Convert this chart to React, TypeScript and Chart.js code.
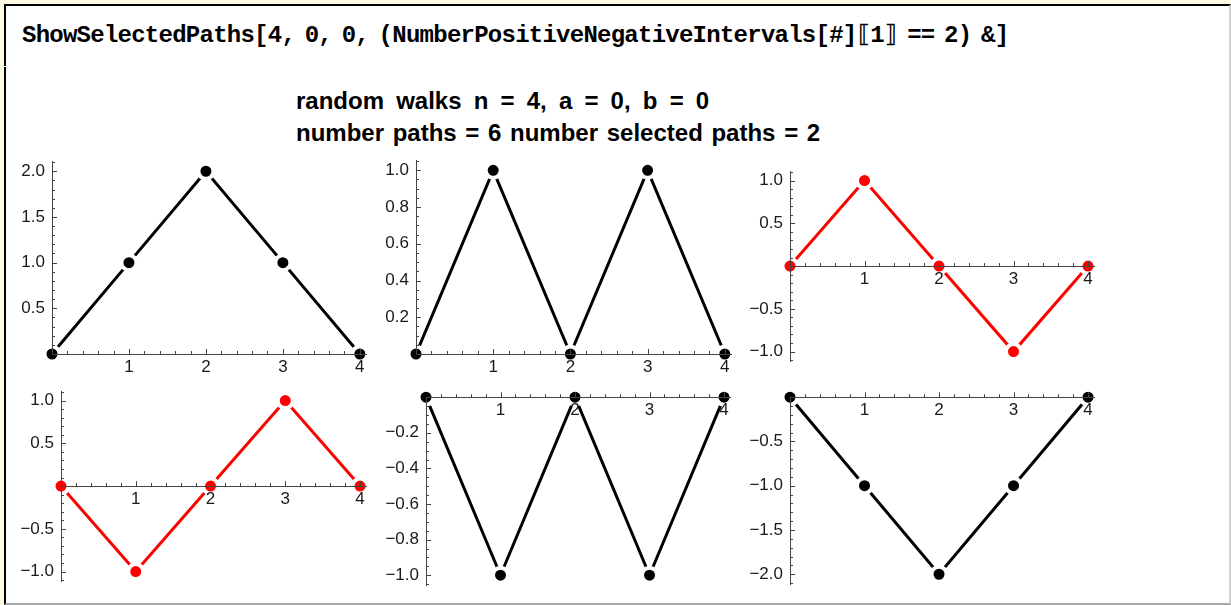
import React, { useEffect, useRef } from 'react';
import { Chart, registerables } from 'chart.js';

Chart.register(...registerables);

// Walk steps (x) shared by every path
const steps = [0, 1, 2, 3, 4];
const xTickLabels = ['', '1', '2', '3', '4'];

// The six random-walk paths of length 4 starting and ending at 0
const path1 = [0, 1, 2, 1, 0];
const path2 = [0, 1, 0, 1, 0];
const path3 = [0, 1, 0, -1, 0];
const path4 = [0, -1, 0, 1, 0];
const path5 = [0, -1, 0, -1, 0];
const path6 = [0, -1, -2, -1, 0];

// Paths picked by the selection predicate
const selectedFlags = [false, false, true, true, false, false];

// Major tick spacing on each panel's vertical axis
const yStepSizes = [0.5, 0.2, 0.5, 0.5, 0.2, 0.5];

const codeLine = 'ShowSelectedPaths[4, 0, 0, (NumberPositiveNegativeIntervals[#]\u27E61\u27E7 == 2) &]';
const titleLine1 = 'random walks n = 4, a = 0, b = 0';
const titleLine2 = 'number paths = 6 number selected paths = 2';

const paths = [path1, path2, path3, path4, path5, path6];

// Plot-area rectangles on the page (left, top, right, bottom)
const panelBoxes = [
  { left: 52, top: 160, right: 366, bottom: 354 },
  { left: 416, top: 159, right: 731, bottom: 354 },
  { left: 790, top: 170, right: 1094, bottom: 361 },
  { left: 61, top: 390, right: 366, bottom: 581 },
  { left: 426, top: 396, right: 730, bottom: 585 },
  { left: 790, top: 396, right: 1094, bottom: 584 },
];

const PAD_L = 70;
const PAD_T = 16;
const PAD_R = 16;
const PAD_B = 30;
const X_MAX = 4.08;
const RANGE_PAD = 0.055;

const AXIS_COLOR = '#444444';
const LABEL_COLOR = '#1a1a1a';
const LABEL_FONT = "'Liberation Sans', Arial, sans-serif";

const formatY = (v: number) => {
  if (Math.abs(v) < 1e-9) return '';
  const s = Math.abs(v).toFixed(1);
  return v < 0 ? '\u2212' + s : s;
};

// Mathematica-style inward tick marks, majors and minors, along both axes
const innerTicks = {
  id: 'innerTicks',
  afterDatasetsDraw(chart: any, _args: any, opts: any) {
    const { ctx, scales } = chart;
    const xs = scales.x;
    const ys = scales.y;
    const y0 = ys.getPixelForValue(0);
    const x0 = xs.getPixelForValue(0);
    ctx.save();
    ctx.strokeStyle = AXIS_COLOR;
    ctx.lineWidth = 1;
    ctx.beginPath();
    const xMinor = 0.2;
    for (let k = Math.ceil(xs.min / xMinor - 1e-9); k * xMinor <= xs.max + 1e-9; k++) {
      if (k === 0) continue;
      const len = k % 5 === 0 ? opts.major : opts.minor;
      const px = Math.round(xs.getPixelForValue(k * xMinor)) + 0.5;
      ctx.moveTo(px, y0);
      ctx.lineTo(px, y0 - len);
    }
    const yMinor = opts.yStep === 0.2 ? 0.05 : opts.yStep / 5;
    const ratio = Math.round(opts.yStep / yMinor);
    for (let k = Math.ceil(ys.min / yMinor - 1e-9); k * yMinor <= ys.max + 1e-9; k++) {
      if (k === 0) continue;
      const len = k % ratio === 0 ? opts.major : opts.minor;
      const py = Math.round(ys.getPixelForValue(k * yMinor)) + 0.5;
      ctx.moveTo(x0, py);
      ctx.lineTo(x0 + len, py);
    }
    ctx.stroke();
    ctx.restore();
  },
};

function Panel({ index }: { index: number }) {
  const ref = useRef<HTMLCanvasElement>(null);
  const box = panelBoxes[index];
  const width = box.right - box.left + PAD_L + PAD_R;
  const height = box.bottom - box.top + PAD_T + PAD_B;

  useEffect(() => {
    if (!ref.current) return;
    const values = paths[index];
    const color = selectedFlags[index] ? '#ff0000' : '#000000';
    const lo = Math.min(0, ...values);
    const hi = Math.max(0, ...values);
    const span = hi - lo;
    const yMin = lo < 0 ? lo - RANGE_PAD * span : 0;
    const yMax = hi > 0 ? hi + RANGE_PAD * span : 0;

    const chart = new Chart(ref.current, {
      type: 'line',
      data: {
        datasets: [
          {
            data: steps.map((s, i) => ({ x: s, y: values[i] })),
            borderColor: color,
            borderWidth: 3,
            backgroundColor: color,
            pointBackgroundColor: color,
            pointBorderColor: '#ffffff',
            pointBorderWidth: 4,
            pointRadius: 7.5,
            pointHoverRadius: 7.5,
            tension: 0,
            fill: false,
            clip: false as any,
          },
        ],
      },
      options: {
        responsive: false,
        animation: false,
        events: [],
        layout: { padding: { left: PAD_L - 60, top: PAD_T, right: PAD_R, bottom: PAD_B } },
        plugins: {
          legend: { display: false },
          tooltip: { enabled: false },
          innerTicks: { major: 5, minor: 3, yStep: yStepSizes[index] },
        } as any,
        scales: {
          x: {
            type: 'linear',
            position: { y: 0 } as any,
            min: 0,
            max: X_MAX,
            grid: { display: false, drawTicks: false },
            border: { display: true, color: AXIS_COLOR, width: 1, z: 1 } as any,
            ticks: {
              stepSize: 1,
              includeBounds: false,
              autoSkip: false,
              maxRotation: 0,
              padding: 3,
              color: LABEL_COLOR,
              font: { family: LABEL_FONT, size: 17 },
              z: 1,
              callback: (v: any) => {
                const i = steps.indexOf(Number(v));
                return i >= 0 ? xTickLabels[i] : '';
              },
            },
          },
          y: {
            type: 'linear',
            position: 'left',
            min: yMin,
            max: yMax,
            afterFit: (s: any) => {
              s.width = 60;
            },
            grid: { display: false, drawTicks: false },
            border: { display: true, color: AXIS_COLOR, width: 1, z: 1 } as any,
            ticks: {
              stepSize: yStepSizes[index],
              includeBounds: false,
              autoSkip: false,
              padding: 7,
              color: LABEL_COLOR,
              font: { family: LABEL_FONT, size: 17 },
              z: 1,
              callback: (v: any) => formatY(Number(v)),
            },
          },
        },
      },
      plugins: [innerTicks],
    } as any);
    return () => chart.destroy();
  }, [index]);

  return (
    <canvas
      ref={ref}
      width={width}
      height={height}
      style={{
        position: 'absolute',
        left: box.left - PAD_L,
        top: box.top - PAD_T,
        width,
        height,
      }}
    />
  );
}

export default function App() {
  return (
    <div
      style={{
        position: 'fixed',
        left: 0,
        top: 0,
        width: 1231,
        height: 605,
        background: '#fffbe2',
        overflow: 'hidden',
      }}
    >
      <div
        style={{
          position: 'absolute',
          left: 4,
          top: 4,
          width: 1227,
          height: 601,
          boxSizing: 'border-box',
          background: '#ffffff',
          borderTop: '2px solid #000000',
          borderLeft: '2px solid #000000',
          borderRight: '2px solid #cfcfcf',
          borderBottom: '2px solid #a8a8a8',
        }}
      />
      <div style={{ position: 'absolute', left: 2, top: 66, width: 6, height: 1, background: '#ffffff' }} />
      <div
        style={{
          position: 'absolute',
          left: 22,
          top: 22,
          whiteSpace: 'pre',
          fontFamily: "'Liberation Mono', 'DejaVu Sans Mono', monospace",
          fontWeight: 'bold',
          fontSize: 24,
          lineHeight: '28px',
          letterSpacing: '-0.75px',
          wordSpacing: '-4px',
          color: '#000000',
        }}
      >
        {codeLine}
      </div>
      <div
        style={{
          position: 'absolute',
          left: 296,
          top: 85,
          whiteSpace: 'pre',
          fontFamily: "'Liberation Sans', Arial, sans-serif",
          fontWeight: 'bold',
          fontSize: 24,
          lineHeight: '32px',
          color: '#000000',
        }}
      >
        <div style={{ wordSpacing: '5.5px' }}>{titleLine1}</div>
        <div style={{ wordSpacing: '2px' }}>{titleLine2}</div>
      </div>
      {paths.map((_, i) => (
        <Panel key={i} index={i} />
      ))}
    </div>
  );
}
